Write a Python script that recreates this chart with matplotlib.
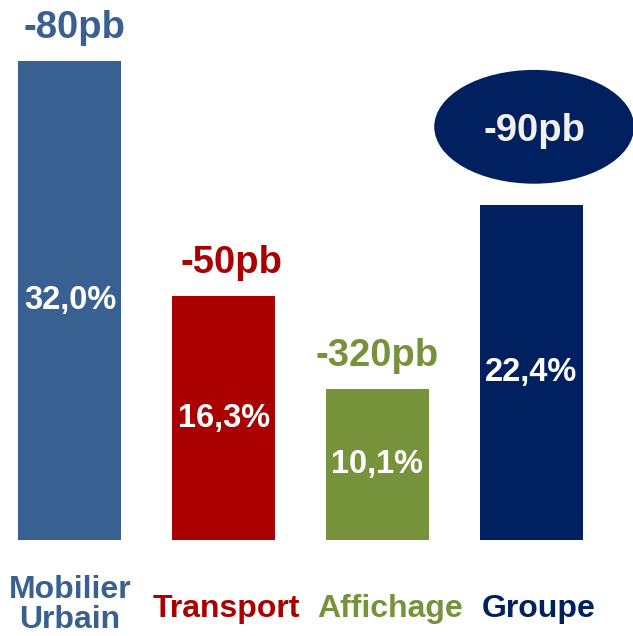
import matplotlib
matplotlib.use('Agg')
import matplotlib.pyplot as plt
from matplotlib.patches import Ellipse

# data
categories = ['Mobilier\nUrbain', 'Transport', 'Affichage', 'Groupe']
margins = [32.0, 16.3, 10.1, 22.4]
changes = ['-80pb', '-50pb', '-320pb', '-90pb']
colors = ['#386192', '#AA0000', '#76933C', '#002060']

fig = plt.figure(figsize=(6.33, 6.36), dpi=100)
ax = fig.add_axes([0, 0, 1, 1])
x = list(range(len(categories)))

ax.bar(x, margins, width=0.67, color=colors)

num_font = ['Liberation Sans', 'DejaVu Sans']
cat_font = ['Liberation Sans Narrow', 'Liberation Sans', 'DejaVu Sans']
# small nudges of the labels, as in the original slide
label_dx = [0.0, 0.02, 0.08, 0.05]
label_y = [-4.35, -4.6, -4.6, -4.6]
change_dx = [0.03, 0.05, 0.0, 0.0]

for i, v in enumerate(margins):
    # value inside bar
    ax.text(i, v / 2, f'{v:.1f}'.replace('.', ',') + '%', ha='center', va='center',
            color='white', fontsize=23.5, fontweight='bold', family=num_font)
    # category label below
    ax.text(i + label_dx[i], label_y[i], categories[i], ha='center', va='center',
            color=colors[i], fontsize=23, fontweight='bold', family=cat_font,
            linespacing=0.98)
    if i < 3:
        ax.text(i + change_dx[i], v + 2.2, changes[i], ha='center', va='center',
                color=colors[i], fontsize=27.5, fontweight='bold', family=num_font)

# highlighted group change in an ellipse
ax.add_patch(Ellipse((3.02, margins[3] + 5.2), 1.30, 7.6, color=colors[3], lw=0))
ax.text(3.02, margins[3] + 4.9, changes[3], ha='center', va='center', color='#F2F0EA',
        fontsize=27.5, fontweight='bold', family=num_font)

ax.set_xlim(-0.455, 3.663)
ax.set_ylim(-6.41, 36.07)
ax.axis('off')

fig.savefig('out.png', dpi=100, facecolor='white')
